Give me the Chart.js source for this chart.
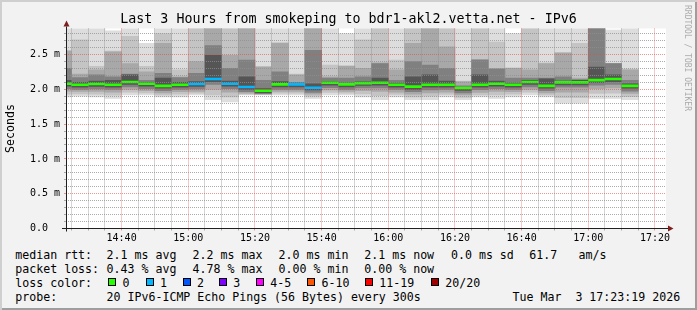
<!DOCTYPE html>
<html>
<head>
<meta charset="utf-8">
<script src="https://cdn.jsdelivr.net/npm/chart.js@4.4.1/dist/chart.umd.min.js"></script>
<style>
  html, body { margin: 0; padding: 0; }
  body { width: 697px; height: 310px; overflow: hidden; }
  #frame {
    position: relative; width: 697px; height: 310px; background: #f2f2f2;
    box-shadow: inset 2px 2px 0 #cfcfcf, inset -2px -2px 0 #9e9e9e;
    font-family: "DejaVu Sans Mono", monospace; color: #000;
  }
  #c { position: absolute; left: 0; top: 0; }
  #title { position: absolute; left: 0; top: 11.4px; width: 697px; text-align: center;
    font-size: 13.3px; line-height: 16px; white-space: pre; }
  #mark { position: absolute; left: 691.3px; top: 4.5px; transform-origin: 0 0; transform: rotate(90deg);
    font-size: 8px; line-height: 8px; color: #ababab; white-space: pre; }
  .t { position: absolute; white-space: pre; font-size: 11.6px; line-height: 14px; }
  .box { position: absolute; width: 6px; height: 6px; border: 1px solid #000; }
</style>
</head>
<body>
<div id="frame">
  <canvas id="c" width="697" height="245"></canvas>
  <div id="title">Last 3 Hours from smokeping to bdr1-akl2.vetta.net - IPv6</div>
  <div id="mark">RRDTOOL / TOBI OETIKER</div>

  <span class="t" style="left:15.3px;top:247.8px">median rtt:</span>
  <span class="t" style="left:106.6px;top:247.8px">2.1 ms avg</span>
  <span class="t" style="left:192.6px;top:247.8px">2.2 ms max</span>
  <span class="t" style="left:278.6px;top:247.8px">2.0 ms min</span>
  <span class="t" style="left:364.3px;top:247.8px">2.1 ms now</span>
  <span class="t" style="left:451px;top:247.8px">0.0 ms sd</span>
  <span class="t" style="left:529.3px;top:247.8px">61.7</span>
  <span class="t" style="left:578.6px;top:247.8px">am/s</span>

  <span class="t" style="left:15.3px;top:261.8px">packet loss:</span>
  <span class="t" style="left:106.6px;top:261.8px">0.43 % avg</span>
  <span class="t" style="left:192.6px;top:261.8px">4.78 % max</span>
  <span class="t" style="left:278.6px;top:261.8px">0.00 % min</span>
  <span class="t" style="left:364.3px;top:261.8px">0.00 % now</span>

  <span class="t" style="left:15.3px;top:275.8px">loss color:</span>
  <div id="losslegend"></div>

  <span class="t" style="left:15.3px;top:289.6px">probe:</span>
  <span class="t" style="left:106.6px;top:289.6px">20 IPv6-ICMP Echo Pings (56 Bytes) every 300s</span>
  <span class="t" style="left:512.6px;top:289.6px">Tue Mar  3 17:23:19 2026</span>
</div>
<script>
// 5 minute bins (end time of each bin)
const times = ['14:25', '14:30', '14:35', '14:40', '14:45', '14:50', '14:55', '15:00', '15:05', '15:10',
  '15:15', '15:20', '15:25', '15:30', '15:35', '15:40', '15:45', '15:50', '15:55', '16:00',
  '16:05', '16:10', '16:15', '16:20', '16:25', '16:30', '16:35', '16:40', '16:45', '16:50',
  '16:55', '17:00', '17:05', '17:10', '17:15'];

// median rtt (ms)
const median = [2.08, 2.066, 2.076, 2.066, 2.105, 2.08, 2.05, 2.066, 2.076, 2.148,
  2.08, 2.033, 1.98, 2.07, 2.07, 2.023, 2.095, 2.07, 2.09, 2.095,
  2.066, 2.038, 2.066, 2.066, 2.019, 2.066, 2.08, 2.066, 2.105, 2.05,
  2.10, 2.10, 2.133, 2.148, 2.05];

// lost pings per bin (of 20)
const lost = [0, 0, 0, 0, 0, 0, 0, 0, 1, 1, 1, 1, 0, 0, 1, 1, 0, 0, 0, 0,
  0, 0, 0, 0, 0, 0, 0, 0, 0, 0, 0, 0, 0, 0, 0];

// smoke bands, outermost (1) to innermost (5)
const hi1 = [2.95, 2.95, 2.95, 2.84, 2.95, 2.66, 2.95, 2.95, 2.95, 2.95, 2.95, 2.95, 2.95, 2.95, 2.95, 2.95, 2.95, 2.80,
  2.95, 2.95, 2.95, 2.95, 2.95, 2.95, 2.95, 2.95, 2.95, 2.80, 2.95, 2.95, 2.95, 2.95, 2.95, 2.85, 2.95];
const hi2 = [2.56, 2.71, 2.33, 2.55, 2.76, 2.33, 2.80, 2.28, 2.95, 2.95, 2.95, 2.95, 2.33, 2.67, 2.22, 2.95, 2.35, 2.34,
  2.71, 2.95, 2.42, 2.95, 2.95, 2.95, 2.12, 2.95, 2.68, 2.31, 2.95, 2.38, 2.53, 2.66, 2.95, 2.37, 2.29];
const hi3 = [2.55, 2.22, 2.28, 2.54, 2.37, 2.25, 2.66, 2.18, 2.40, 2.95, 2.49, 2.95, 2.32, 2.66, 2.21, 2.95, 2.18, 2.33,
  2.30, 2.38, 2.28, 2.66, 2.95, 2.61, 2.11, 2.43, 2.30, 2.30, 2.28, 2.37, 2.52, 2.16, 2.95, 2.37, 2.28];
const hi4 = [2.30, 2.17, 2.21, 2.18, 2.22, 2.13, 2.23, 2.17, 2.23, 2.63, 2.30, 2.42, 2.13, 2.25, 2.10, 2.56, 2.16, 2.16,
  2.18, 2.37, 2.13, 2.40, 2.35, 2.30, 2.05, 2.42, 2.29, 2.16, 2.16, 2.16, 2.18, 2.14, 2.95, 2.37, 2.13];
const hi5 = [2.13, 2.10, 2.12, 2.13, 2.21, 2.10, 2.16, 2.10, 2.11, 2.49, 2.12, 2.18, 2.01, 2.11, 2.09, 2.08, 2.11, 2.09,
  2.11, 2.16, 2.09, 2.18, 2.21, 2.12, 2.03, 2.21, 2.12, 2.09, 2.13, 2.15, 2.12, 2.13, 2.32, 2.21, 2.08];
const lo5 = [2.045, 2.03, 2.04, 2.03, 2.07, 2.045, 2.015, 2.03, 2.04, 2.11, 2.045, 2.0, 1.95, 2.035, 2.035, 1.99, 2.06, 2.035,
  2.055, 2.06, 2.03, 2.0, 2.03, 2.03, 1.985, 2.03, 2.045, 2.03, 2.07, 2.015, 2.065, 2.065, 2.10, 2.11, 2.015];
const lo4 = [2.01, 2.0, 2.005, 2.0, 2.035, 2.01, 1.98, 2.0, 2.005, 2.07, 2.01, 1.965, 1.94, 2.0, 2.0, 1.955, 2.025, 2.0,
  2.02, 2.02, 2.0, 1.965, 1.99, 2.0, 1.95, 1.995, 2.01, 2.0, 2.035, 1.98, 2.03, 2.03, 2.06, 2.07, 1.975];
const lo3 = [1.975, 1.97, 1.97, 1.96, 2.0, 1.98, 1.95, 1.965, 1.97, 2.0, 1.96, 1.945, 1.93, 1.97, 1.97, 1.93, 1.99, 1.97,
  1.98, 1.97, 1.96, 1.93, 1.95, 1.96, 1.92, 1.955, 1.97, 1.965, 2.0, 1.95, 1.96, 1.96, 2.01, 2.02, 1.94];
const lo2 = [1.93, 1.935, 1.93, 1.915, 1.96, 1.95, 1.92, 1.93, 1.945, 1.92, 1.89, 1.93, 1.925, 1.945, 1.945, 1.90, 1.955, 1.945,
  1.935, 1.91, 1.925, 1.89, 1.90, 1.925, 1.885, 1.92, 1.92, 1.93, 1.96, 1.92, 1.88, 1.88, 1.94, 1.945, 1.895];
const lo1 = [1.89, 1.90, 1.89, 1.87, 1.92, 1.92, 1.89, 1.89, 1.92, 1.85, 1.82, 1.92, 1.92, 1.92, 1.92, 1.87, 1.92, 1.92,
  1.89, 1.85, 1.89, 1.85, 1.85, 1.89, 1.85, 1.89, 1.87, 1.89, 1.92, 1.89, 1.80, 1.80, 1.87, 1.87, 1.85];

// axes
const windowStart = '14:23:19';
const windowEnd = '17:23:19';
const xTicks = ['14:40', '15:00', '15:20', '15:40', '16:00', '16:20', '16:40', '17:00', '17:20'];
const yTicks = [0, 0.5, 1.0, 1.5, 2.0, 2.5];
const yTickLabels = ['0.0  ', '0.5 m', '1.0 m', '1.5 m', '2.0 m', '2.5 m'];
const yMax = 2.874;

// loss legend
const lossLabels = ['0', '1', '2', '3', '4-5', '6-10', '11-19', '20/20'];
const lossColors = ['#26ff00', '#00b8ff', '#0059ff', '#7e00ff', '#ff00ff', '#ff5500', '#ff0000', '#a10000'];

const toMin = s => { const p = s.split(':').map(Number); return p[0] * 60 + p[1] + (p[2] || 0) / 60; };
const fmt = v => { const h = Math.floor(v / 60); const m = Math.round(v - h * 60);
  return String(h).padStart(2, '0') + ':' + String(m).padStart(2, '0'); };
function lossColor(n) {
  if (n <= 3) return lossColors[n];
  if (n <= 5) return lossColors[4];
  if (n <= 10) return lossColors[5];
  if (n <= 19) return lossColors[6];
  return lossColors[7];
}

const legendBoxX = [108.3, 145.7, 182.7, 219, 256, 307.3, 365, 431];
const ll = document.getElementById('losslegend');
lossLabels.forEach((lab, i) => {
  const b = document.createElement('div');
  b.className = 'box';
  b.style.left = legendBoxX[i] + 'px';
  b.style.top = '278.3px';
  b.style.background = lossColors[i];
  ll.appendChild(b);
  const s = document.createElement('span');
  s.className = 't';
  s.style.left = (legendBoxX[i] + 14.3) + 'px';
  s.style.top = '275.8px';
  s.textContent = lab;
  ll.appendChild(s);
});

const xMin = toMin(windowStart), xMax = toMin(windowEnd);
const xTickMins = xTicks.map(toMin);
// grid every 5 minutes / every 0.1 ms, labelled only at the major ticks
const xGrid = [];
for (let v = Math.ceil(xMin / 5) * 5; v <= xMax; v += 5) xGrid.push(v);
const yGrid = [];
for (let k = 0; k / 10 < yMax; k++) yGrid.push(k / 10);
const isMajorX = v => xTickMins.some(t => Math.abs(t - v) < 1e-6);
const majorYIndex = v => yTicks.findIndex(t => Math.abs(t - v) < 1e-6);

const centers = times.map(t => toMin(t) - 2.5);
const his = [hi1, hi2, hi3, hi4, hi5];
const los = [lo1, lo2, lo3, lo4, lo5];
const layerColors = ['#dddddd', '#c4c4c4', '#a8a8a8', '#808080', '#555555'];
const barOpts = { grouped: false, barPercentage: 1, categoryPercentage: 1, clip: 0, borderWidth: 0 };

const datasets = [];
datasets.push(Object.assign({
  label: 'median',
  data: centers.map((x, i) => ({ x, y: [median[i] - 0.0144, median[i] + 0.0144] })),
  backgroundColor: lost.map(lossColor)
}, barOpts));
for (let L = 4; L >= 0; L--) {
  datasets.push(Object.assign({
    label: 'smoke' + (L + 1),
    data: centers.map((x, i) => ({ x, y: [los[L][i], his[L][i]] })),
    backgroundColor: layerColors[L]
  }, barOpts));
}

const FONT = '"DejaVu Sans Mono"';
const MINOR = 'rgba(143,143,143,0.75)';
const MAJOR = 'rgba(222,79,79,0.6)';

const frame = {
  id: 'frame',
  beforeDraw(chart) {
    const { ctx, chartArea: a } = chart;
    ctx.save();
    ctx.fillStyle = '#ffffff';
    ctx.fillRect(a.left, a.top, a.right - a.left, a.bottom - a.top);
    ctx.restore();
  },
  afterDraw(chart) {
    const { ctx, chartArea: a } = chart;
    const ax = a.left + 0.5, ay = a.bottom;
    ctx.save();
    ctx.strokeStyle = '#1f1f1f';
    ctx.lineWidth = 1;
    ctx.beginPath();
    ctx.moveTo(a.left - 4, ay); ctx.lineTo(a.right + 2, ay);
    ctx.moveTo(ax, ay + 3); ctx.lineTo(ax, a.top - 2);
    ctx.stroke();
    ctx.fillStyle = '#801f1f';
    ctx.beginPath();
    ctx.moveTo(ax, a.top - 8); ctx.lineTo(ax - 3, a.top - 2); ctx.lineTo(ax + 3, a.top - 2); ctx.closePath();
    ctx.fill();
    ctx.beginPath();
    ctx.moveTo(a.right + 7.5, ay); ctx.lineTo(a.right + 2, ay - 3); ctx.lineTo(a.right + 2, ay + 3); ctx.closePath();
    ctx.fill();
    ctx.restore();
  }
};

new Chart(document.getElementById('c'), {
  type: 'bar',
  data: { datasets },
  options: {
    responsive: false,
    animation: false,
    devicePixelRatio: 1,
    layout: { padding: { left: 0, right: 31, top: 28.5, bottom: 0 } },
    plugins: { legend: { display: false }, tooltip: { enabled: false } },
    scales: {
      x: {
        type: 'linear', position: 'bottom', min: xMin, max: xMax, offset: false,
        afterBuildTicks: s => { s.ticks = xGrid.map(v => ({ value: v })); },
        afterFit: s => { s.height = 16.5; },
        ticks: { autoSkip: false, maxRotation: 0, padding: 2, color: '#000', font: { family: FONT, size: 10 },
          callback: v => isMajorX(v) ? fmt(v) : '' },
        grid: { offset: false, z: 1, color: c => isMajorX(c.tick.value) ? MAJOR : MINOR,
          drawTicks: true, tickLength: 2 },
        border: { display: false, dash: [1, 1] }
      },
      y: {
        type: 'linear', position: 'left', min: 0, max: yMax,
        afterBuildTicks: s => { s.ticks = yGrid.map(v => ({ value: v })); },
        afterFit: s => { s.width = 66; },
        ticks: { autoSkip: false, padding: 4, color: '#000', font: { family: FONT, size: 10 },
          callback: v => { const i = majorYIndex(v); return i < 0 ? '' : yTickLabels[i]; } },
        title: { display: true, text: 'Seconds', color: '#000', font: { family: FONT, size: 11.6 },
          padding: { top: 4.5, bottom: 0 } },
        grid: { z: 1, color: c => majorYIndex(c.tick.value) < 0 ? MINOR : MAJOR,
          drawTicks: true, tickLength: 2 },
        border: { display: false, dash: [1, 1] }
      }
    }
  },
  plugins: [frame]
});
</script>
</body>
</html>
